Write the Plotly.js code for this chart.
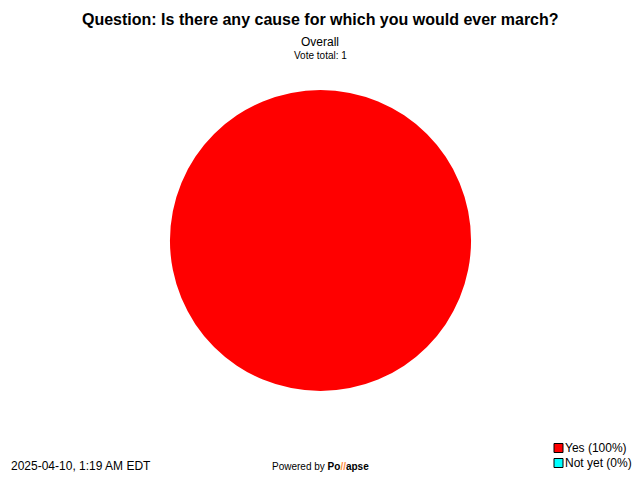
<!DOCTYPE html>
<html>
<head>
<meta charset="utf-8">
<script src="https://cdn.plot.ly/plotly-3.0.1.min.js"></script>
<style>html,body{margin:0;padding:0;background:#fff;}#chart{width:640px;height:480px;}</style>
</head>
<body>
<div id="chart"></div>
<script>
var labels = ["Yes", "Not yet"];
var values = [1, 0];
var colors = ["#ff0000", "#00ffff"];
var pctLabels = ["Yes (100%)", "Not yet (0%)"];
var titleText = "Question: Is there any cause for which you would ever march?";
var subtitle = "Overall";
var voteTotal = "Vote total: 1";
var timestamp = "2025-04-10, 1:19 AM EDT";

var W = 640, H = 480;
function px(x){return x / W;}
function py(y){return 1 - y / H;}

var annotations = [
  {text: "<b>" + titleText + "</b>", x: 0.5, y: py(20), xref: "paper", yref: "paper", showarrow: false, font: {family: "Liberation Sans, Arial, sans-serif", size: 16, color: "#000"}, xanchor: "center", yanchor: "middle"},
  {text: subtitle, x: 0.5, y: py(42), xref: "paper", yref: "paper", showarrow: false, font: {family: "Liberation Sans, Arial, sans-serif", size: 12, color: "#000"}, xanchor: "center", yanchor: "middle"},
  {text: voteTotal, x: 0.5, y: py(55), xref: "paper", yref: "paper", showarrow: false, font: {family: "Liberation Sans, Arial, sans-serif", size: 10, color: "#000"}, xanchor: "center", yanchor: "middle"},
  {text: timestamp, x: px(9), y: py(466), xref: "paper", yref: "paper", showarrow: false, font: {family: "Liberation Sans, Arial, sans-serif", size: 12, color: "#000"}, xanchor: "left", yanchor: "middle"},
  {text: "Powered by <b>Po</b><span style=\"color:#ff8c40\"><b>//</b></span><b>apse</b>", x: px(270), y: py(466), xref: "paper", yref: "paper", showarrow: false, font: {family: "Liberation Sans, Arial, sans-serif", size: 10, color: "#000"}, xanchor: "left", yanchor: "middle"}
];
var shapes = [];
pctLabels.forEach(function(t, i){
  var yc = 448 + i * 15;
  shapes.push({type: "rect", xref: "paper", yref: "paper", x0: px(554), x1: px(563), y0: py(yc - 4.5), y1: py(yc + 4.5), fillcolor: colors[i], line: {color: "#000", width: 1}});
  annotations.push({text: t, x: px(563), y: py(yc), xref: "paper", yref: "paper", showarrow: false, font: {family: "Liberation Sans, Arial, sans-serif", size: 12, color: "#000"}, xanchor: "left", yanchor: "middle"});
});

var data = [{
  type: "pie",
  labels: labels,
  values: values,
  marker: {colors: colors, line: {width: 0}},
  textinfo: "none",
  hoverinfo: "none",
  sort: false,
  showlegend: false,
  domain: {x: [px(170), px(471)], y: [py(391), py(90)]}
}];

var layout = {
  width: W, height: H,
  margin: {l: 0, r: 0, t: 0, b: 0},
  paper_bgcolor: "#fff",
  plot_bgcolor: "#fff",
  showlegend: false,
  annotations: annotations,
  shapes: shapes
};
Plotly.newPlot("chart", data, layout, {displayModeBar: false, staticPlot: true});
</script>
</body>
</html>
